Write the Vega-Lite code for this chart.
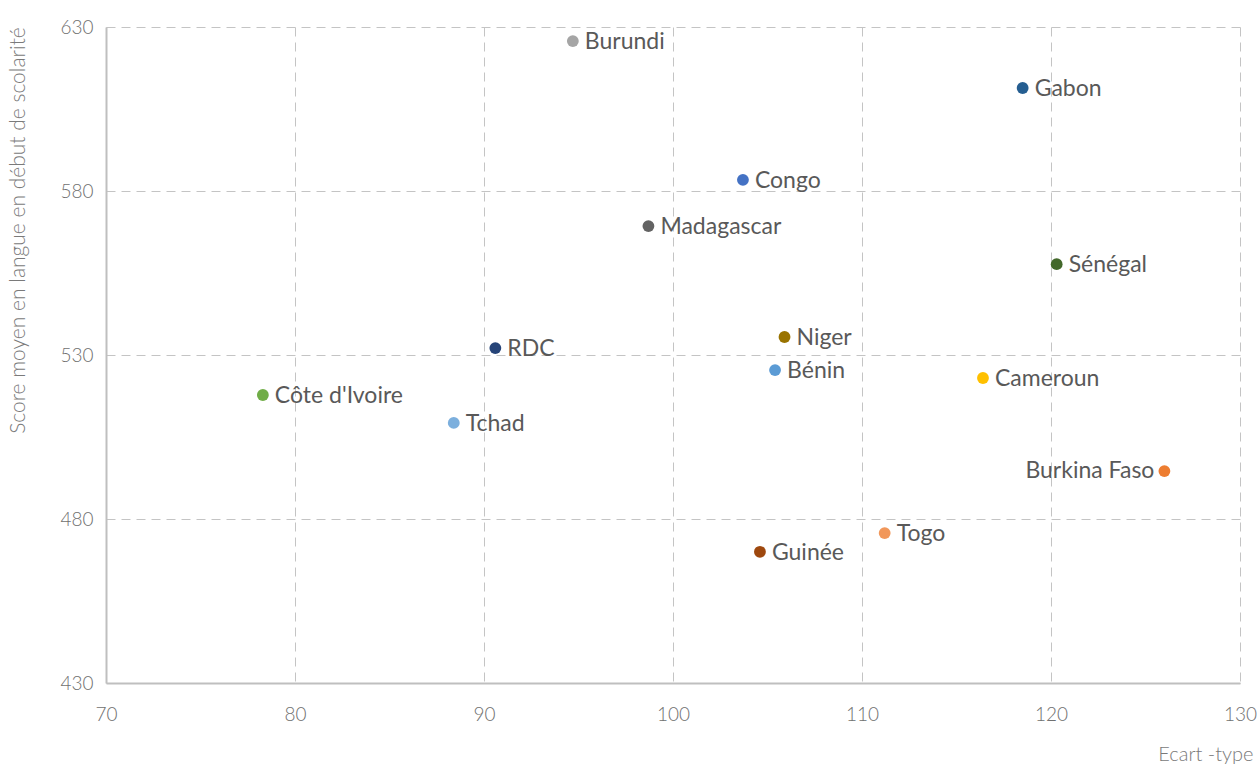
{
  "$schema": "https://vega.github.io/schema/vega-lite/v6.json",
  "autosize": "none",
  "width": 1134,
  "height": 656,
  "padding": {"left": 106, "top": 27, "right": 19, "bottom": 84},
  "background": "white",
  "config": {
    "font": "Lato",
    "view": {"stroke": null},
    "axis": {
      "labelFont": "Lato",
      "titleFont": "Lato",
      "labelColor": "#707070",
      "titleColor": "#7a7a7a",
      "labelFontSize": 19,
      "labelFontWeight": 300,
      "titleFontSize": 20,
      "titleFontWeight": 300,
      "labelFlush": false,
      "ticks": false,
      "gridColor": "#c4c4c4",
      "gridDash": [9, 6],
      "gridWidth": 1,
      "domainColor": "#bfbfbf",
      "domainWidth": 2
    }
  },
  "data": {
    "values": [
      {"pays": "Burundi", "ecart": 94.7, "score": 625.7},
      {"pays": "Gabon", "ecart": 118.5, "score": 611.4},
      {"pays": "Congo", "ecart": 103.7, "score": 583.4},
      {"pays": "Madagascar", "ecart": 98.7, "score": 569.3},
      {"pays": "Sénégal", "ecart": 120.3, "score": 557.7},
      {"pays": "Niger", "ecart": 105.9, "score": 535.5},
      {"pays": "RDC", "ecart": 90.6, "score": 532.1},
      {"pays": "Bénin", "ecart": 105.4, "score": 525.4},
      {"pays": "Cameroun", "ecart": 116.4, "score": 523.0},
      {"pays": "Côte d'Ivoire", "ecart": 78.3, "score": 517.8},
      {"pays": "Tchad", "ecart": 88.4, "score": 509.3},
      {"pays": "Burkina Faso", "ecart": 126.0, "score": 494.6},
      {"pays": "Togo", "ecart": 111.2, "score": 475.7},
      {"pays": "Guinée", "ecart": 104.6, "score": 470.0}
    ]
  },
  "encoding": {
    "x": {
      "field": "ecart", "type": "quantitative",
      "scale": {"domain": [70, 130], "nice": false, "zero": false},
      "axis": {
        "values": [70, 80, 90, 100, 110, 120, 130],
        "title": "Ecart -type",
        "labelPadding": 22,
        "titleAnchor": "end",
        "titleAlign": "right",
        "titleX": 1147,
        "titleY": 81,
        "titleBaseline": "bottom"
      }
    },
    "y": {
      "field": "score", "type": "quantitative",
      "scale": {"domain": [430, 630], "nice": false, "zero": false},
      "axis": {
        "values": [430, 480, 530, 580, 630],
        "title": "Score moyen en langue en début de scolarité",
        "titleFontSize": 21,
        "labelPadding": 13,
        "titleAngle": 270,
        "titleX": -88,
        "titleY": 203,
        "titleAlign": "center",
        "titleBaseline": "middle"
      }
    }
  },
  "layer": [
    {
      "mark": {"type": "point", "filled": true, "opacity": 1, "size": 140},
      "encoding": {
        "color": {
          "field": "pays", "type": "nominal", "legend": null,
          "scale": {
            "domain": ["Burundi", "Gabon", "Congo", "Madagascar", "Sénégal", "Niger", "RDC", "Bénin", "Cameroun", "Côte d'Ivoire", "Tchad", "Burkina Faso", "Togo", "Guinée"],
            "range": ["#A5A5A5", "#255E91", "#4472C4", "#636363", "#43682B", "#997300", "#264478", "#5B9BD5", "#FFC000", "#70AD47", "#7CAFDD", "#ED7D31", "#F1975A", "#9E480E"]
          }
        }
      }
    },
    {
      "transform": [{"filter": "datum.pays !== 'Burkina Faso'"}],
      "mark": {"type": "text", "align": "left", "baseline": "middle", "dx": 12, "dy": 1, "fontSize": 23, "color": "#595959"},
      "encoding": {"text": {"field": "pays"}}
    },
    {
      "transform": [{"filter": "datum.pays === 'Burkina Faso'"}],
      "mark": {"type": "text", "align": "right", "baseline": "middle", "dx": -10, "dy": 0, "fontSize": 23, "color": "#595959"},
      "encoding": {"text": {"field": "pays"}}
    }
  ]
}
